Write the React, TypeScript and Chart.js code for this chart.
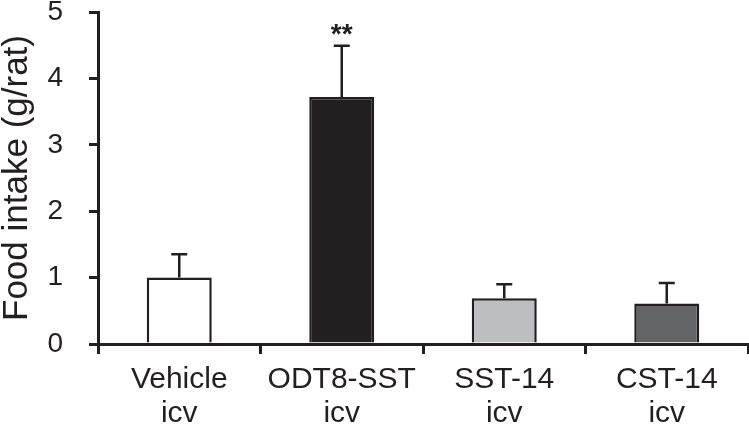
import React, { useEffect, useRef } from "react";
import { Chart, registerables } from "chart.js";

Chart.register(...registerables);

const categories: string[][] = [
  ["Vehicle", "icv"],
  ["ODT8-SST", "icv"],
  ["SST-14", "icv"],
  ["CST-14", "icv"],
];
const means: number[] = [1.0, 3.72, 0.69, 0.61];
const errors: number[] = [0.35, 0.77, 0.21, 0.31];
const significance: string[] = ["", "**", "", ""];
const barColors: string[] = ["#ffffff", "#231f20", "#bcbec0", "#636466"];
const yTicks: number[] = [0, 1, 2, 3, 4, 5];

const INK = "#231f20";
const FONT = "'Liberation Sans', Arial, sans-serif";

const errorBarPlugin = {
  id: "errorBars",
  afterDatasetsDraw(chart: any) {
    const ctx = chart.ctx;
    const meta = chart.getDatasetMeta(0);
    const y = chart.scales.y;
    ctx.save();
    ctx.strokeStyle = INK;
    ctx.lineWidth = 2.5;
    meta.data.forEach((bar: any, i: number) => {
      const x = bar.x;
      const yBar = y.getPixelForValue(means[i]);
      const yTop = y.getPixelForValue(means[i] + errors[i]);
      ctx.beginPath();
      ctx.moveTo(x, yBar);
      ctx.lineTo(x, yTop);
      ctx.moveTo(x - 8, yTop);
      ctx.lineTo(x + 8, yTop);
      ctx.stroke();
      if (significance[i]) {
        ctx.fillStyle = INK;
        ctx.font = `bold 28px ${FONT}`;
        ctx.textAlign = "center";
        ctx.textBaseline = "alphabetic";
        ctx.fillText(significance[i], x, yTop - 3);
      }
    });
    ctx.restore();
  },
};

export default function App() {
  const ref = useRef<HTMLCanvasElement | null>(null);

  useEffect(() => {
    if (!ref.current) return;
    const chart = new Chart(ref.current, {
      type: "bar",
      data: {
        labels: categories,
        datasets: [
          {
            data: means,
            backgroundColor: barColors,
            borderColor: INK,
            borderWidth: 2.5,
            categoryPercentage: 1,
            barPercentage: 0.4,
          },
        ],
      },
      options: {
        responsive: false,
        animation: false,
        layout: { padding: { top: 12, right: 1, left: 0, bottom: 0 } },
        plugins: {
          legend: { display: false },
          tooltip: { enabled: false },
        },
        scales: {
          x: {
            offset: true,
            grid: {
              offset: true,
              drawOnChartArea: false,
              tickLength: 10,
              color: INK,
              lineWidth: 3,
            },
            border: { display: true, color: INK, width: 3 },
            ticks: {
              color: INK,
              font: { family: FONT, size: 30, lineHeight: 1.12 },
              padding: 9,
              maxRotation: 0,
              autoSkip: false,
            },
            afterFit(scale: any) {
              scale.height = 82;
              scale.paddingLeft = 0;
              scale.paddingRight = 0;
            },
          },
          y: {
            min: 0,
            max: 5,
            afterBuildTicks(scale: any) {
              scale.ticks = yTicks.map((v) => ({ value: v }));
            },
            grid: {
              drawOnChartArea: false,
              tickLength: 9,
              color: INK,
              lineWidth: 3,
            },
            border: { display: true, color: INK, width: 3 },
            ticks: {
              color: INK,
              font: { family: FONT, size: 28 },
              padding: 26,
            },
            title: {
              display: true,
              text: "Food intake (g/rat)",
              color: INK,
              font: { family: FONT, size: 35, lineHeight: 1 },
              padding: { top: 0, bottom: 0 },
            },
            afterFit(scale: any) {
              scale.width = 98;
              scale.paddingTop = 0;
              scale.paddingBottom = 0;
            },
          },
        },
      },
      plugins: [errorBarPlugin],
    });
    return () => chart.destroy();
  }, []);

  return (
    <div
      style={{
        position: "fixed",
        left: 0,
        top: 0,
        width: 749,
        height: 426,
        background: "#ffffff",
      }}
    >
      <canvas ref={ref} width={749} height={426} />
    </div>
  );
}
